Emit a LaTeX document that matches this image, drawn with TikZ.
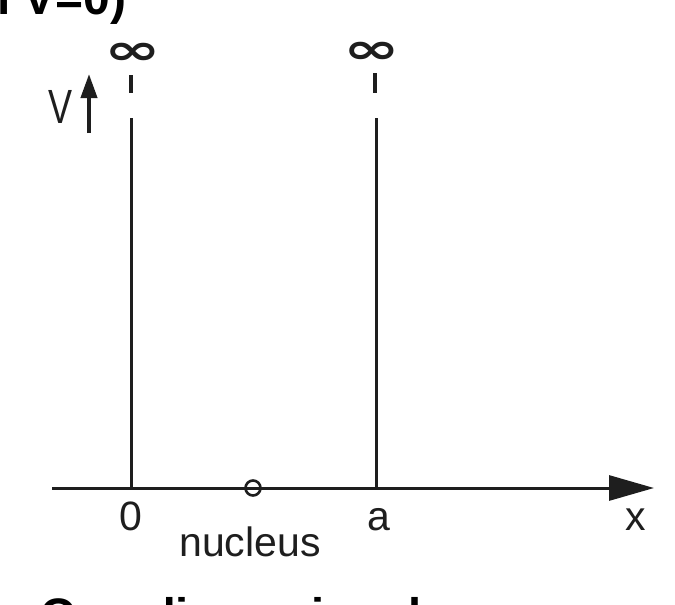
\documentclass[tikz,border=0pt]{standalone}
\usepackage{fontspec}
\setmainfont{Liberation Sans}
\newfontfamily\symfnt{DejaVu Sans}
\usetikzlibrary{arrows.meta}
\definecolor{ink}{HTML}{1E1E1E}
\begin{document}
\begin{tikzpicture}[x=1pt,y=-1pt,
  axisline/.style={line width=3pt, ink},
  wall/.style={line width=3pt, ink},
  walldash/.style={line width=3.6pt, ink},
  lbl/.style={font=\fontsize{41}{48}\selectfont, text=ink, inner sep=0pt, anchor=base},
  ttl/.style={font=\fontsize{48}{56}\selectfont\bfseries, text=black, inner sep=0pt, anchor=base west},
  inf/.style={inner sep=0pt, text=ink, font=\symfnt\bfseries\fontsize{68}{70}\selectfont}]
\useasboundingbox (0,0) rectangle (675,605);
\clip (0,0) rectangle (675,605);
\fill[white] (0,0) rectangle (675,605);

% partial titles
\node[ttl] (toptxt) at (-3,14) {l V=0)};
\node[ttl, font=\fontsize{47}{56}\selectfont\bfseries] (bottxt) at (40,631) {One-dimensional};

% points
\coordinate (axL) at (52,488);
\coordinate (axR) at (654,488);
\coordinate (O) at (131,488);
\coordinate (A) at (376,488);
\coordinate (Ltop) at (131,118);
\coordinate (Rtop) at (376,118);
\coordinate (Ld1) at (131,75);
\coordinate (Ld2) at (131,93);
\coordinate (Rd1) at (375,73);
\coordinate (Rd2) at (375,93);
\coordinate (Vb) at (89,133);
\coordinate (Vt) at (89,74);

% x axis
\draw[axisline, -{Triangle[length=45pt,width=25pt]}] (axL) -- (axR);
% walls
\draw[wall] (Ltop) -- (O);
\draw[wall] (Rtop) -- (A);
\draw[walldash] (Ld1) -- (Ld2);
\draw[walldash] (Rd1) -- (Rd2);
% infinity marks
\node[inf] (infL) at (133,54) {\scalebox{1}[0.62]{∞}};
\node[inf] (infR) at (372,53) {\scalebox{1}[0.62]{∞}};
% V axis arrow
\draw[line width=4pt, ink, -{Triangle[length=24pt,width=16pt]}] (Vb) -- (Vt);
\node[lbl, anchor=center, font=\fontsize{48}{56}\selectfont] (V) at (61,107) {\scalebox{0.75}[1]{V}};
% nucleus
\node[draw=ink, circle, minimum size=15pt, line width=2.6pt, inner sep=0pt] (nuc) at (253,488) {};
% labels
\node[lbl] (l0) at (131,530) {0};
\node[lbl] (la) at (379,530) {a};
\node[lbl] (lx) at (636,530) {x};
\node[lbl] (lnuc) at (250,556) {nucleus};
\end{tikzpicture}
\end{document}
